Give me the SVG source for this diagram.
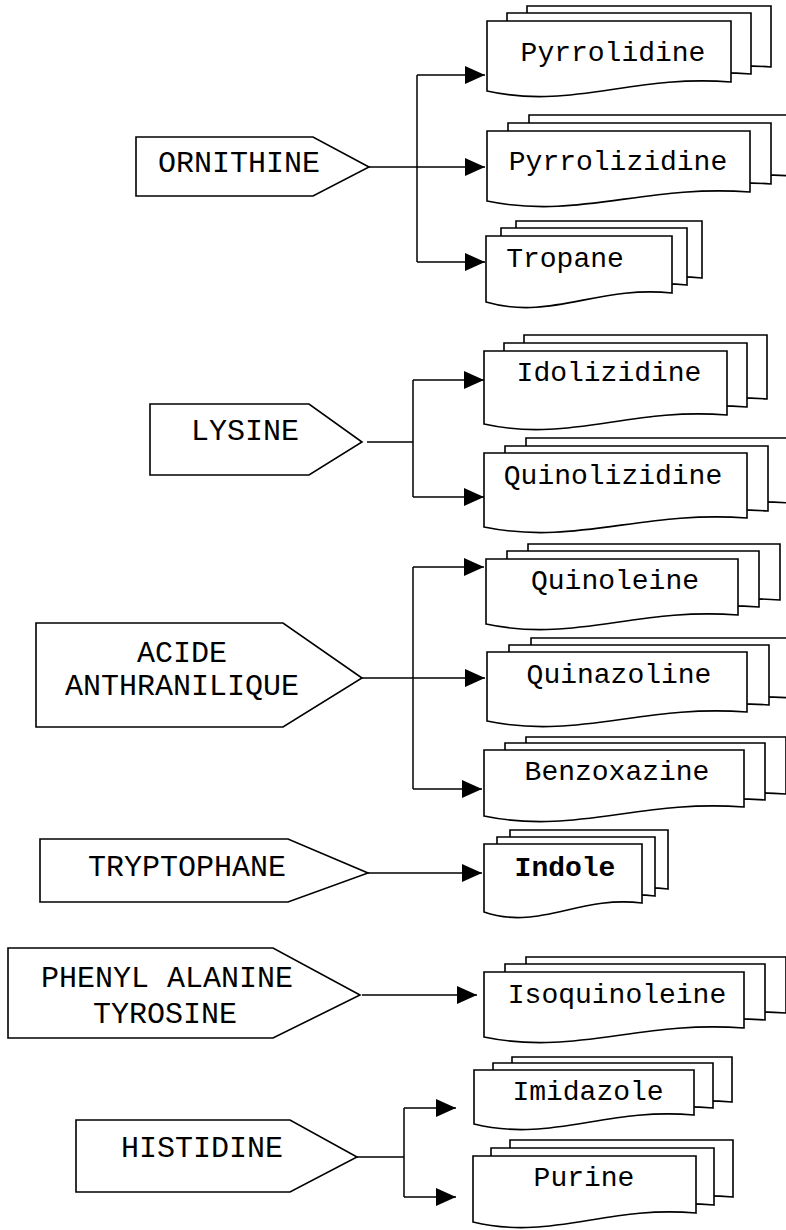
<svg xmlns="http://www.w3.org/2000/svg" width="786" height="1230" viewBox="0 0 786 1230">
<style>
.sh{fill:#fff;stroke:#000;stroke-width:1.6}
.ln{fill:none;stroke:#000;stroke-width:1.5}
.ar{marker-end:url(#ah)}
.src{font-family:"Liberation Mono","Courier New",monospace;font-size:30px;fill:#000;text-anchor:middle}
.prd{font-family:"Liberation Mono","Courier New",monospace;font-size:28px;fill:#000;text-anchor:middle}
.b{font-weight:bold}
</style>
<defs>
<marker id="ah" viewBox="0 0 20 18" refX="20" refY="9" markerWidth="20" markerHeight="18" markerUnits="userSpaceOnUse" orient="auto"><path d="M0,0 L20,9 L0,18 z" fill="#000"/></marker>
<path id="d1" d="M0,0 H244 V61 C146,53 85,89 0,70 Z"/>
<path id="d2" d="M0,0 H263 V61 C158,53 92,89 0,70 Z"/>
<path id="d3" d="M0,0 H186 V57 C112,49 65,85 0,66 Z"/>
<path id="d4" d="M0,0 H243 V64 C146,56 85,92 0,73 Z"/>
<path id="d5" d="M0,0 H263 V65 C158,57 92,93 0,74 Z"/>
<path id="d6" d="M0,0 H252 V56 C151,48 88,84 0,65 Z"/>
<path id="d7" d="M0,0 H260 V60 C156,52 91,88 0,69 Z"/>
<path id="d8" d="M0,0 H260 V57 C156,49 91,85 0,66 Z"/>
<path id="d9" d="M0,0 H158 V59 C95,51 55,87 0,68 Z"/>
<path id="d10" d="M0,0 H260 V56 C156,48 91,84 0,65 Z"/>
<path id="d11" d="M0,0 H220 V45 C132,37 77,73 0,54 Z"/>
<path id="d12" d="M0,0 H223 V57 C134,49 78,85 0,66 Z"/>
</defs>

<g id="connectors">
<path class="ln ar" d="M369,167 H485"/>
<path class="ln" d="M417,75 V262"/>
<path class="ln ar" d="M417,75 H485"/>
<path class="ln ar" d="M417,262 H485"/>

<path class="ln" d="M367,442 H413 M413,380 V497"/>
<path class="ln ar" d="M413,380 H484"/>
<path class="ln ar" d="M413,497 H484"/>

<path class="ln ar" d="M362,678 H485"/>
<path class="ln" d="M413,567 V789"/>
<path class="ln ar" d="M413,567 H484"/>
<path class="ln ar" d="M413,789 H482"/>

<path class="ln ar" d="M368,873 H482"/>
<path class="ln ar" d="M362,995 H477"/>

<path class="ln" d="M357,1157 H404 M404,1108 V1197"/>
<path class="ln ar" d="M404,1108 H456"/>
<path class="ln ar" d="M404,1197 H456"/>
</g>

<g id="ornithine">
<path class="sh" d="M136,137 H313 L369,167 L313,196 H136 Z"/>
<text class="src" x="239" y="172">ORNITHINE</text>
</g>
<g id="lysine">
<path class="sh" d="M150,404 H309 L362,442 L309,475 H150 Z"/>
<text class="src" x="245" y="440">LYSINE</text>
</g>
<g id="acide-anthranilique">
<path class="sh" d="M36,623 H283 L362,678 L283,727 H36 Z"/>
<text class="src" x="182" y="662">ACIDE</text>
<text class="src" x="182" y="695">ANTHRANILIQUE</text>
</g>
<g id="tryptophane">
<path class="sh" d="M40,839 H288 L368,873 L288,902 H40 Z"/>
<text class="src" x="187" y="876">TRYPTOPHANE</text>
</g>
<g id="phenylalanine-tyrosine">
<path class="sh" d="M8,948 H273 L360,995 L273,1038 H8 Z"/>
<text class="src" x="167" y="987">PHENYL ALANINE</text>
<text class="src" x="165" y="1023">TYROSINE</text>
</g>
<g id="histidine">
<path class="sh" d="M76,1120 H290 L357,1157 L290,1192 H76 Z"/>
<text class="src" x="202" y="1157">HISTIDINE</text>
</g>

<g id="pyrrolidine">
<use href="#d1" class="sh" x="527" y="6"/>
<use href="#d1" class="sh" x="507" y="13"/>
<use href="#d1" class="sh" x="487" y="21"/>
<text class="prd" x="613" y="61">Pyrrolidine</text>
</g>
<g id="pyrrolizidine">
<use href="#d2" class="sh" x="529" y="115"/>
<use href="#d2" class="sh" x="508" y="123"/>
<use href="#d2" class="sh" x="487" y="131"/>
<text class="prd" x="618" y="170">Pyrrolizidine</text>
</g>
<g id="tropane">
<use href="#d3" class="sh" x="516" y="221"/>
<use href="#d3" class="sh" x="501" y="228"/>
<use href="#d3" class="sh" x="486" y="236"/>
<text class="prd" x="565" y="267">Tropane</text>
</g>
<g id="idolizidine">
<use href="#d4" class="sh" x="524" y="335"/>
<use href="#d4" class="sh" x="504" y="343"/>
<use href="#d4" class="sh" x="484" y="351"/>
<text class="prd" x="609" y="381">Idolizidine</text>
</g>
<g id="quinolizidine">
<use href="#d5" class="sh" x="526" y="438"/>
<use href="#d5" class="sh" x="505" y="446"/>
<use href="#d5" class="sh" x="484" y="453"/>
<text class="prd" x="613" y="484">Quinolizidine</text>
</g>
<g id="quinoleine">
<use href="#d6" class="sh" x="528" y="544"/>
<use href="#d6" class="sh" x="507" y="551"/>
<use href="#d6" class="sh" x="486" y="559"/>
<text class="prd" x="615" y="589">Quinoleine</text>
</g>
<g id="quinazoline">
<use href="#d7" class="sh" x="531" y="638"/>
<use href="#d7" class="sh" x="509" y="645"/>
<use href="#d7" class="sh" x="487" y="652"/>
<text class="prd" x="619" y="683">Quinazoline</text>
</g>
<g id="benzoxazine">
<use href="#d8" class="sh" x="526" y="737"/>
<use href="#d8" class="sh" x="505" y="743"/>
<use href="#d8" class="sh" x="484" y="750"/>
<text class="prd" x="617" y="780">Benzoxazine</text>
</g>
<g id="indole">
<use href="#d9" class="sh" x="510" y="830"/>
<use href="#d9" class="sh" x="497" y="837"/>
<use href="#d9" class="sh" x="484" y="844"/>
<text class="prd b" x="565" y="876">Indole</text>
</g>
<g id="isoquinoleine">
<use href="#d10" class="sh" x="526" y="957"/>
<use href="#d10" class="sh" x="505" y="964"/>
<use href="#d10" class="sh" x="484" y="972"/>
<text class="prd" x="617" y="1003">Isoquinoleine</text>
</g>
<g id="imidazole">
<use href="#d11" class="sh" x="512" y="1057"/>
<use href="#d11" class="sh" x="493" y="1063"/>
<use href="#d11" class="sh" x="474" y="1070"/>
<text class="prd" x="588" y="1100">Imidazole</text>
</g>
<g id="purine">
<use href="#d12" class="sh" x="510" y="1140"/>
<use href="#d12" class="sh" x="491" y="1148"/>
<use href="#d12" class="sh" x="473" y="1156"/>
<text class="prd" x="584" y="1186">Purine</text>
</g>
</svg>
